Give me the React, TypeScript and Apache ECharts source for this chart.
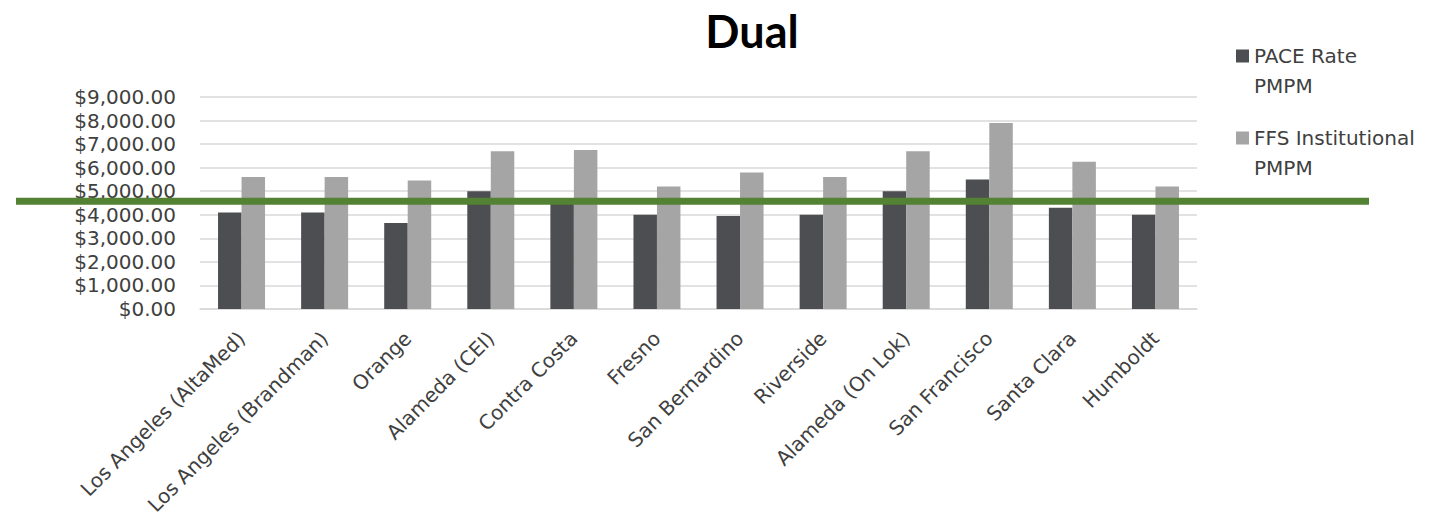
import React, { useEffect, useRef } from 'react';
import * as echarts from 'echarts';

const categories = [
  'Los Angeles (AltaMed)',
  'Los Angeles (Brandman)',
  'Orange',
  'Alameda (CEI)',
  'Contra Costa',
  'Fresno',
  'San Bernardino',
  'Riverside',
  'Alameda (On Lok)',
  'San Francisco',
  'Santa Clara',
  'Humboldt',
];
const paceRate = [4100, 4100, 3650, 5000, 4500, 4000, 3950, 4000, 5000, 5500, 4300, 4000];
const ffsInstitutional = [5600, 5600, 5450, 6700, 6750, 5200, 5800, 5600, 6700, 7900, 6250, 5200];
const seriesNames = ['PACE Rate PMPM', 'FFS Institutional PMPM'];
const yMin = 0;
const yMax = 9000;
const yInterval = 1000;
const threshold = 4570;

export default function App() {
  const ref = useRef<HTMLDivElement>(null);
  useEffect(() => {
    const chart = echarts.init(ref.current!, null, { renderer: 'svg' });
    const font = 'DejaVu Sans';
    const textColor = '#404040';
    chart.setOption({
      animation: false,
      title: {
        text: 'Dual',
        left: 747,
        top: 3,
        textAlign: 'center',
        textStyle: { fontFamily: 'Lato', fontWeight: 'bold', fontSize: 45, color: '#000000' },
      },
      legend: {
        orient: 'vertical',
        left: 1231,
        top: 36,
        itemGap: 22,
        itemWidth: 13,
        itemHeight: 43,
        icon: 'path://M0,0L13,0L13,13L0,13Z M0,43L0.01,43',
        formatter: (name: string) => name.replace(' PMPM', '\nPMPM'),
        textStyle: { fontFamily: font, fontSize: 20, lineHeight: 30, color: textColor },
      },
      grid: { left: 200, right: 234, top: 97, bottom: 213 },
      xAxis: {
        type: 'category',
        data: categories,
        axisLine: { lineStyle: { color: '#d9d9d9', width: 1.5 } },
        axisTick: { show: false },
        axisLabel: { rotate: 45, interval: 0, margin: 26, fontFamily: font, fontSize: 20, color: textColor },
      },
      yAxis: {
        type: 'value',
        min: yMin,
        max: yMax,
        interval: yInterval,
        axisLine: { show: false },
        axisTick: { show: false },
        splitLine: { lineStyle: { color: '#d9d9d9', width: 1.5 } },
        axisLabel: {
          margin: 24,
          fontFamily: font,
          fontSize: 20,
          color: textColor,
          formatter: (v: number) =>
            '$' + v.toLocaleString('en-US', { minimumFractionDigits: 2, maximumFractionDigits: 2 }),
        },
      },
      series: [
        {
          type: 'bar',
          name: seriesNames[0],
          data: paceRate,
          barWidth: 23.5,
          barGap: '0%',
          itemStyle: { color: '#4d4e52' },
        },
        {
          type: 'bar',
          name: seriesNames[1],
          data: ffsInstitutional,
          barWidth: 23.5,
          barGap: '0%',
          itemStyle: { color: '#a5a5a5' },
        },
      ],
    });
    const y = chart.convertToPixel({ yAxisIndex: 0 }, threshold) as number;
    chart.setOption({
      graphic: [
        {
          type: 'line',
          z: 100,
          shape: { x1: 16, y1: y, x2: 1369, y2: y },
          style: { stroke: '#548235', lineWidth: 7 },
        },
      ],
    });
    return () => chart.dispose();
  }, []);
  return <div ref={ref} style={{ position: 'absolute', left: 0, top: 0, width: 1431, height: 522 }} />;
}
